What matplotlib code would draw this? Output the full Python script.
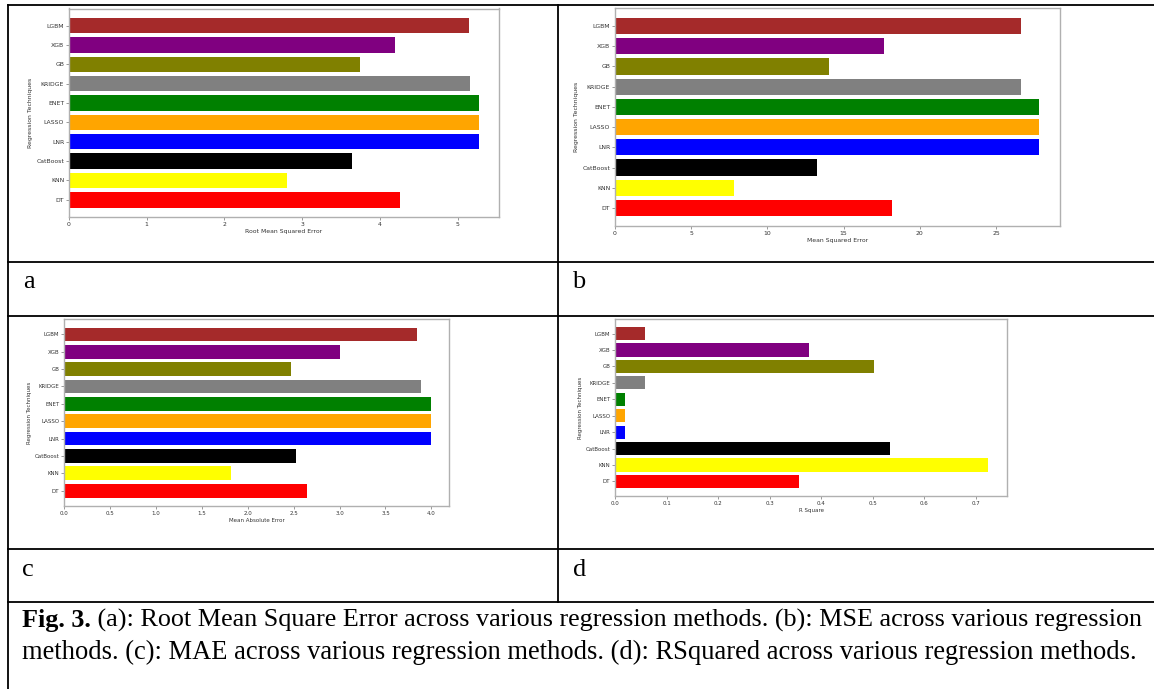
import numpy as np
import matplotlib
matplotlib.use("Agg")
import matplotlib.pyplot as plt
from matplotlib.lines import Line2D

# data (bottom -> top)
models = ["DT", "KNN", "CatBoost", "LNR", "LASSO", "ENET", "KRIDGE", "GB", "XGB", "LGBM"]
bar_colors = ["red", "yellow", "black", "blue", "orange", "green", "gray", "olive", "purple", "brown"]

rmse = [4.26, 2.80, 3.64, 5.27, 5.27, 5.27, 5.16, 3.75, 4.20, 5.15]
mse = [18.16, 7.83, 13.25, 27.80, 27.80, 27.80, 26.64, 14.05, 17.66, 26.62]
mae = [2.646, 1.817, 2.521, 3.992, 3.992, 3.992, 3.883, 2.467, 3.00, 3.844]
r2 = [0.357, 0.724, 0.533, 0.0185, 0.0185, 0.0185, 0.058, 0.503, 0.376, 0.059]

panel_letters = ["a", "b", "c", "d"]
caption_bold = "Fig. 3."
caption_line1 = " (a): Root Mean Square Error across various regression methods. (b): MSE across various regression"
caption_line2 = "methods. (c): MAE across various regression methods. (d): RSquared across various regression methods."

W, H = 1154, 689
fig = plt.figure(figsize=(W / 100, H / 100), dpi=100)
fig.patch.set_facecolor("white")


def fx(x):
    return x / W


def fy(y):
    return 1 - y / H


def add_panel(box, values, xlabel, fs):
    l, r, t, b = box
    ax = fig.add_axes([fx(l), fy(b), fx(r - l), (b - t) / H])
    ax.barh(models, values, color=bar_colors)
    ax.set_xlabel(xlabel, fontsize=fs, color="#333333", labelpad=1.5)
    ax.set_ylabel("Regression Techniques", fontsize=fs, color="#333333", labelpad=2)
    ax.tick_params(labelsize=fs, colors="#888888", labelcolor="#333333",
                   length=2, width=0.6, pad=1.5)
    for sp in ax.spines.values():
        sp.set_color("#b0b0b0")
        sp.set_linewidth(1.0)
    return ax


add_panel((69, 499, 8.5, 217), rmse, "Root Mean Squared Error", 4.4)
add_panel((615, 1060, 8, 226), mse, "Mean Squared Error", 4.4)
ax_c = add_panel((64, 449, 319, 506), mae, "Mean Absolute Error", 4.0)
ax_c.set_xticks(np.arange(0, 4.01, 0.5))
add_panel((615, 1007, 319, 496), r2, "R Square", 4.0)

# table grid lines
lw = 1.3
left, top, mid = 7.5, 4.5, 558
for y in [top, 262, 315.5, 549, 602]:
    fig.add_artist(Line2D([fx(left), 1], [fy(y), fy(y)], color="black", lw=lw))
fig.add_artist(Line2D([fx(left), fx(left)], [fy(top), 0], color="black", lw=lw))
fig.add_artist(Line2D([fx(mid), fx(mid)], [fy(top), fy(602)], color="black", lw=lw))

serif = "Liberation Serif"
letter_pos = [(23, 288), (572, 288), (22, 576), (573, 576)]
for s, (x, y) in zip(panel_letters, letter_pos):
    fig.text(fx(x), fy(y), s, family=serif, fontsize=19, va="baseline", ha="left")

# caption: bold "Fig. 3." followed by regular text
renderer = fig.canvas.get_renderer()
tb = fig.text(fx(22), fy(627), caption_bold, family=serif, fontsize=18.8,
              fontweight="bold", va="baseline", ha="left")
bb = tb.get_window_extent(renderer)
fig.text(bb.x1 / W, fy(627), caption_line1, family=serif, fontsize=18.8,
         va="baseline", ha="left")
fig.text(fx(22), fy(659), caption_line2, family=serif, fontsize=19.1,
         va="baseline", ha="left")

fig.savefig("out.png", dpi=100, facecolor="white")
